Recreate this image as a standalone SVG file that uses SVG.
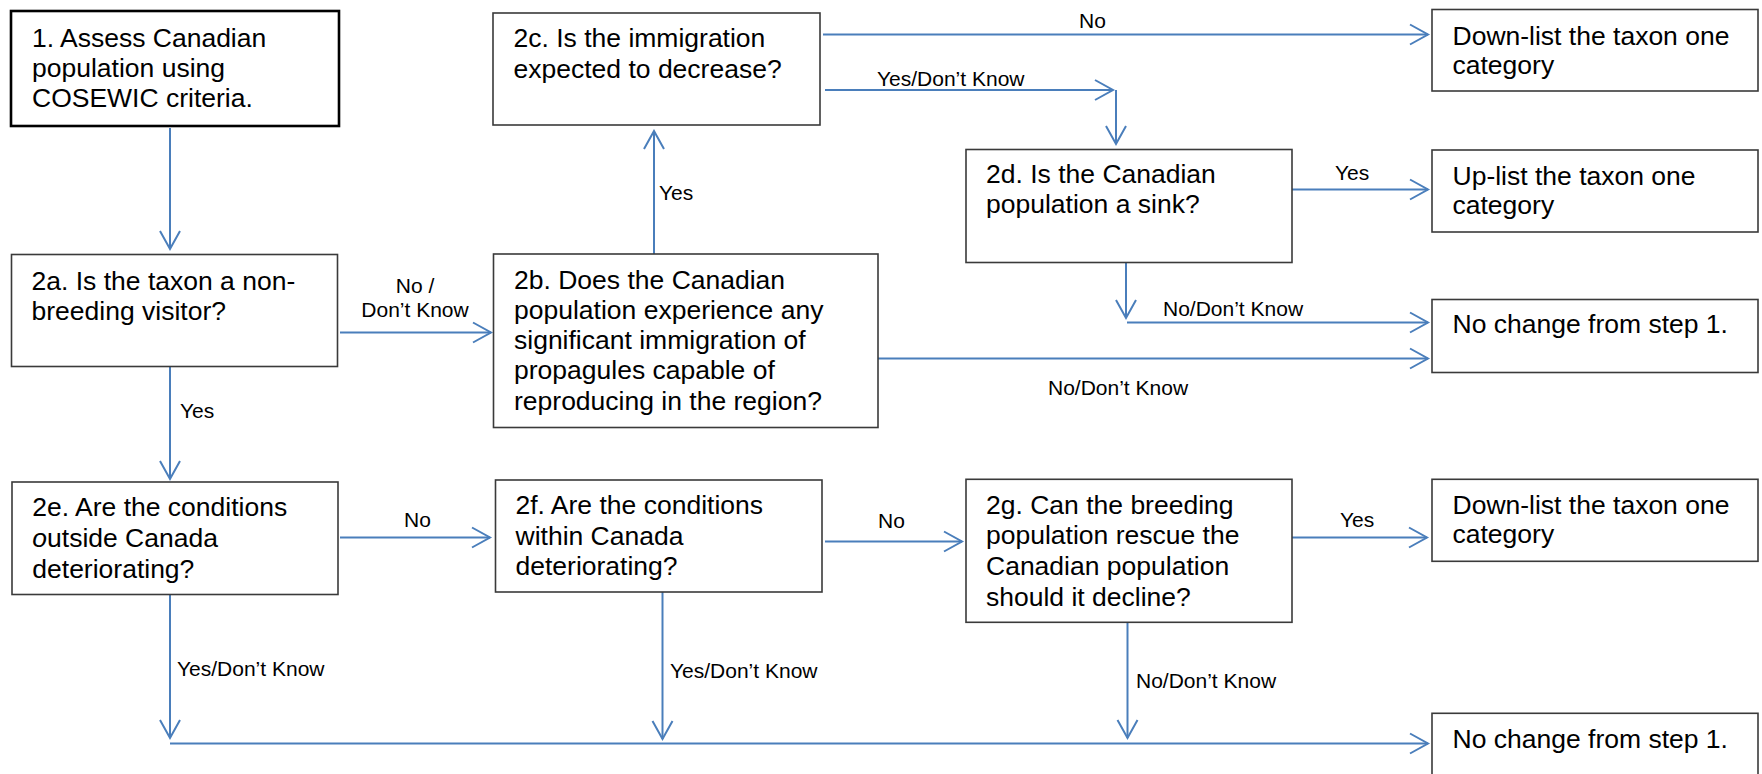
<svg xmlns="http://www.w3.org/2000/svg" width="1762" height="774" viewBox="0 0 1762 774">
<defs>
<style>
.box{fill:#fff;stroke:#3a3a3a;stroke-width:1.6}
.box1{fill:#fff;stroke:#000;stroke-width:2.6}
.t{font-family:"Liberation Sans",Arial,sans-serif;font-size:26.5px;fill:#000}
.lb{font-family:"Liberation Sans",Arial,sans-serif;font-size:21px;fill:#000}
.c{fill:none;stroke:#4A7EBB;stroke-width:2}
.ca{fill:none;stroke:#4A7EBB;stroke-width:2;marker-end:url(#ah)}
</style>
<marker id="ah" markerUnits="userSpaceOnUse" markerWidth="24" markerHeight="26" viewBox="-21 -13 23 26" refX="0" refY="0" orient="auto">
<path d="M-18,-10 L0,0 L-18,10" fill="none" stroke="#4A7EBB" stroke-width="2"/>
</marker>
</defs>
<rect width="1762" height="774" fill="#fff"/>

<g id="connectors">
<path class="ca" d="M170,128 V249"/>
<path class="ca" d="M340,332.5 H491"/>
<path class="ca" d="M654,254 V131"/>
<path class="ca" d="M823,34.5 H1428"/>
<path class="ca" d="M825,90 H1113"/>
<path class="ca" d="M1116,90 V144"/>
<path class="ca" d="M1292,189.5 H1428"/>
<path class="ca" d="M1126,263 V318"/>
<path class="ca" d="M1127,322.5 H1428"/>
<path class="ca" d="M878,358.5 H1428"/>
<path class="ca" d="M170,333 V479"/>
<path class="ca" d="M340,537.5 H490"/>
<path class="ca" d="M825,541.5 H962"/>
<path class="ca" d="M1292,537.5 H1427"/>
<path class="ca" d="M170,595 V738"/>
<path class="ca" d="M662.5,592 V739"/>
<path class="ca" d="M1127.5,622 V738"/>
<path class="ca" d="M170,743.5 H1428"/>
<text class="lb" x="1079" y="28">No</text>
<text class="lb" x="877" y="86">Yes/Don’t Know</text>
<text class="lb" x="659" y="200">Yes</text>
<text class="lb" x="1335" y="180">Yes</text>
<text class="lb" x="1163" y="316">No/Don’t Know</text>
<text class="lb" x="1048" y="395">No/Don’t Know</text>
<text class="lb" x="415" y="293" text-anchor="middle">No /</text>
<text class="lb" x="415" y="317" text-anchor="middle">Don’t Know</text>
<text class="lb" x="180" y="418">Yes</text>
<text class="lb" x="404" y="527">No</text>
<text class="lb" x="878" y="528">No</text>
<text class="lb" x="1340" y="527">Yes</text>
<text class="lb" x="177" y="676">Yes/Don’t Know</text>
<text class="lb" x="670" y="678">Yes/Don’t Know</text>
<text class="lb" x="1136" y="688">No/Don’t Know</text>
</g>

<g id="n1">
<rect class="box1" x="11" y="11" width="328" height="115"/>
<text class="t" x="32" y="47">1. Assess Canadian</text>
<text class="t" x="32" y="77">population using</text>
<text class="t" x="32" y="107">COSEWIC criteria.</text>
</g>

<g id="n2c">
<rect class="box" x="493" y="13" width="327" height="112"/>
<text class="t" x="513.5" y="47">2c. Is the immigration</text>
<text class="t" x="513.5" y="78">expected to decrease?</text>
</g>

<g id="n-downlist-1">
<rect class="box" x="1432" y="9.5" width="326" height="81.5"/>
<text class="t" x="1452.5" y="45">Down-list the taxon one</text>
<text class="t" x="1452.5" y="74">category</text>
</g>

<g id="n2d">
<rect class="box" x="966" y="149.5" width="326" height="113"/>
<text class="t" x="986" y="183">2d. Is the Canadian</text>
<text class="t" x="986" y="213">population a sink?</text>
</g>

<g id="n-uplist">
<rect class="box" x="1432" y="150" width="326" height="82"/>
<text class="t" x="1452.5" y="185">Up-list the taxon one</text>
<text class="t" x="1452.5" y="214">category</text>
</g>

<g id="n2a">
<rect class="box" x="11.5" y="254.5" width="326" height="112"/>
<text class="t" x="31.5" y="290">2a. Is the taxon a non-</text>
<text class="t" x="31.5" y="320">breeding visitor?</text>
</g>

<g id="n2b">
<rect class="box" x="493.5" y="254" width="384.5" height="173.5"/>
<text class="t" x="514" y="289">2b. Does the Canadian</text>
<text class="t" x="514" y="319">population experience any</text>
<text class="t" x="514" y="349">significant immigration of</text>
<text class="t" x="514" y="379">propagules capable of</text>
<text class="t" x="514" y="410">reproducing in the region?</text>
</g>

<g id="n-nochange-1">
<rect class="box" x="1432" y="299.5" width="326" height="73"/>
<text class="t" x="1452.5" y="333">No change from step 1.</text>
</g>

<g id="n2e">
<rect class="box" x="12" y="482" width="326" height="112.5"/>
<text class="t" x="32.3" y="515.5">2e. Are the conditions</text>
<text class="t" x="32.3" y="546.5"><tspan font-style="italic">o</tspan>utside Canada</text>
<text class="t" x="32.3" y="577.5">deteriorating?</text>
</g>

<g id="n2f">
<rect class="box" x="495.5" y="480" width="326.5" height="112"/>
<text class="t" x="515.5" y="513.5">2f. Are the conditions</text>
<text class="t" x="515.5" y="545">within Canada</text>
<text class="t" x="515.5" y="575">deteriorating?</text>
</g>

<g id="n2g">
<rect class="box" x="966" y="479.3" width="326" height="143"/>
<text class="t" x="986" y="514">2g. Can the breeding</text>
<text class="t" x="986" y="544">population rescue the</text>
<text class="t" x="986" y="575">Canadian population</text>
<text class="t" x="986" y="605.5">should it decline?</text>
</g>

<g id="n-downlist-2">
<rect class="box" x="1432" y="479.3" width="326" height="82"/>
<text class="t" x="1452.5" y="514">Down-list the taxon one</text>
<text class="t" x="1452.5" y="543">category</text>
</g>

<g id="n-nochange-2">
<rect class="box" x="1432" y="713.3" width="326" height="80"/>
<text class="t" x="1452.5" y="748.3">No change from step 1.</text>
</g>
</svg>
